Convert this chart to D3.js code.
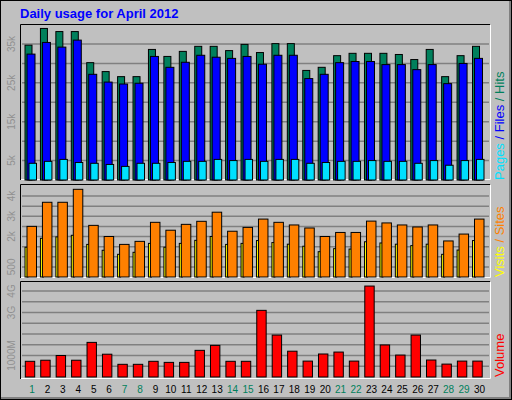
<!DOCTYPE html>
<html>
<head>
<meta charset="utf-8">
<script src="https://cdn.jsdelivr.net/npm/d3@7"></script>
<style>body{margin:0;background:#fff}</style>
</head>
<body>
<div id="chart"></div>
<script>
// chart data
const days = d3.range(1, 31);
const weekendDays = [1, 7, 8, 14, 15, 21, 22, 28, 29];
const hits = [34700,39000,38200,38200,30200,27900,26600,26600,33600,31800,33100,34400,34400,33300,34900,
  32800,35100,35100,28200,29000,32000,32600,32600,32600,32300,31000,33600,26600,32000,34400];
const files = [32400,35400,34200,36000,27200,25200,24700,24900,31800,29000,30300,32100,31600,31300,31800,
  29800,32100,32100,26100,27200,30200,30500,30500,29700,29700,28400,29700,24800,30000,31300];
const pages = [4300,4800,5300,4500,4300,4000,3500,4300,4300,4500,4800,4800,5300,5000,5300,
  4800,5300,5300,4300,4500,4800,4800,5000,4800,4800,4300,5000,3800,5000,5300];
const visits = [2500,3690,3690,4330,2550,2000,1610,1760,2700,2310,2600,2750,3200,2260,2450,
  2860,2700,2570,2420,2000,2200,2200,2760,2670,2570,2470,2570,1780,2120,2860];
const sites = [1470,1910,1980,2060,1610,1320,1120,1220,1660,1470,1660,1810,2000,1610,1660,
  1800,1700,1620,1520,1250,1400,1380,1740,1680,1620,1550,1620,1120,1330,1800];
const volumeGB = [0.73,0.78,1.0,0.78,1.61,1.06,0.59,0.59,0.73,0.68,0.68,1.24,1.47,0.73,0.73,
  3.1,1.95,1.2,0.74,1.07,1.16,0.74,4.23,1.49,1.02,1.95,0.79,0.6,0.74,0.74];
const topTicks = [5000, 15000, 25000, 35000], topTickLabels = ['5k', '15k', '25k', '35k'];
const midTicks = [500, 2000, 3000, 4000], midTickLabels = ['500', '2k', '3k', '4k'];
const volTicks = [1, 3, 4], volTickLabels = ['1000M', '3G', '4G'];

const W = 512, H = 400;
const svg = d3.select('#chart').append('svg').attr('width', W).attr('height', H)
  .style('font-family', 'Arial, "Liberation Sans", sans-serif');

// outer frame with bevel
svg.append('rect').attr('width', W).attr('height', H).attr('fill', '#c0c0c0');
svg.append('path').attr('d', `M0.5,${H - 1}V0.5H${W - 1}`).attr('stroke', '#fff').attr('fill', 'none');
svg.append('path').attr('d', `M1,${H - 1.5}H${W - 1.5}V1`).attr('stroke', '#808080').attr('stroke-width', 3).attr('fill', 'none');
svg.append('rect').attr('x', 0.5).attr('y', 0.5).attr('width', W - 1).attr('height', H - 1)
  .attr('fill', 'none').attr('stroke', '#000');

svg.append('text').attr('x', 20).attr('y', 18).text('Daily usage for April 2012')
  .attr('fill', '#0000ff').attr('font-weight', 'bold').attr('font-size', 13);

const x = d3.scaleLinear().domain([1, 30]).range([32, 479.5]);

function panel(y0, y1) {
  svg.append('path').attr('d', `M20.5,${y1}V${y0 + 0.5}H490`).attr('stroke', '#000').attr('fill', 'none');
  svg.append('path').attr('d', `M21,${y1 - 0.5}H490.5V${y0 + 1}`).attr('stroke', '#fff').attr('fill', 'none');
}
function grid(yScale, vals) {
  svg.append('g').selectAll('line').data(vals).join('line')
    .attr('x1', 22).attr('x2', 489).attr('y1', d => yScale(d)).attr('y2', d => yScale(d))
    .attr('stroke', '#808080').attr('stroke-width', 1.5);
}
function yLabels(yScale, vals, labels) {
  svg.append('g').selectAll('text').data(vals).join('text')
    .attr('transform', d => `translate(15,${yScale(d)}) rotate(-90)`)
    .attr('text-anchor', 'middle').attr('font-size', 10).attr('fill', '#909090')
    .text((d, i) => labels[i]);
}
function bars(data, yScale, dx, w, color) {
  svg.append('g').selectAll('rect').data(data).join('rect')
    .attr('x', (d, i) => x(days[i]) + dx).attr('width', w)
    .attr('y', d => yScale(d)).attr('height', d => yScale(0) - yScale(d))
    .attr('fill', color).attr('stroke', '#000').attr('stroke-width', 1);
}
function sideLabel(bottomY, parts) {
  const t = svg.append('text').attr('transform', `translate(504,${bottomY}) rotate(-90)`)
    .attr('text-anchor', 'start').attr('font-size', 13);
  parts.forEach(p => t.append('tspan').attr('fill', p[1]).text(p[0]));
}

// top panel: hits / files / pages
panel(24, 180);
const yTop = d3.scaleLinear().domain([0, 35000]).range([180, 44]);
grid(yTop, d3.range(5000, 35001, 5000));
yLabels(yTop, topTicks, topTickLabels);
bars(hits, yTop, -7, 7, '#00805c');
bars(files, yTop, -5, 8, '#0000ff');
bars(pages, yTop, -3, 7.5, '#00e0ff');
sideLabel(180, [['Pages', '#00e0ff'], [' / ', '#0000ff'], ['Files', '#0000ff'], [' / ', '#00805c'], ['Hits', '#00805c']]);

// middle panel: visits / sites
panel(184, 278);
const yMid = d3.scaleLinear().domain([0, 4000]).range([277, 196]);
grid(yMid, d3.range(500, 4001, 500));
yLabels(yMid, midTicks, midTickLabels);
bars(sites, yMid, -7, 3, '#ffff00');
bars(visits, yMid, -5, 9.5, '#ff8000');
sideLabel(277, [['Visits', '#ffff00'], [' / ', '#ff8000'], ['Sites', '#ff8000']]);

// bottom panel: volume
panel(281, 379);
const yVol = d3.scaleLinear().domain([0, 4]).range([377, 291]);
grid(yVol, d3.range(0.5, 4.01, 0.5));
yLabels(yVol, volTicks, volTickLabels);
bars(volumeGB, yVol, -6.7, 9.4, '#ff0000');
sideLabel(377, [['Volume', '#ff0000']]);

// day labels
svg.append('g').selectAll('text').data(days).join('text')
  .attr('x', d => x(d)).attr('y', 393).attr('text-anchor', 'middle').attr('font-size', 10)
  .attr('fill', d => weekendDays.includes(d) ? '#00805c' : '#000').text(d => d);
</script>
</body>
</html>
